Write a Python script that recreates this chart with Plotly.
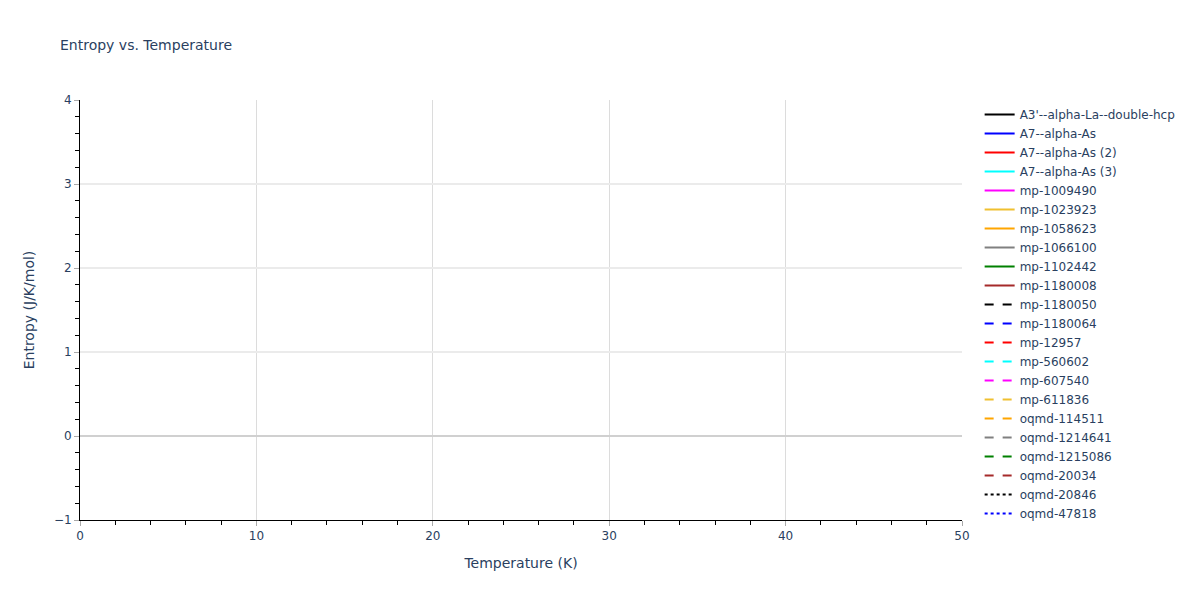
import plotly.graph_objects as go

# Series names shown in the legend (no data visible in the plotted range)
names = [
    "A3'--alpha-La--double-hcp", "A7--alpha-As", "A7--alpha-As (2)", "A7--alpha-As (3)",
    "mp-1009490", "mp-1023923", "mp-1058623", "mp-1066100", "mp-1102442", "mp-1180008",
    "mp-1180050", "mp-1180064", "mp-12957", "mp-560602", "mp-607540", "mp-611836",
    "oqmd-114511", "oqmd-1214641", "oqmd-1215086", "oqmd-20034", "oqmd-20846", "oqmd-47818",
]
colors = ["black", "blue", "red", "cyan", "magenta", "#f0c030", "orange", "grey", "green", "brown"]
dashes = ["solid", "dash", "dot"]

# Temperature / entropy values: nothing is drawn inside the visible window
temperature = [None]
entropy = [None]

fig = go.Figure()
for i, n in enumerate(names):
    fig.add_trace(go.Scatter(
        x=temperature, y=entropy, mode="lines", name=n, showlegend=True,
        line=dict(color=colors[i % 10], dash=dashes[i // 10], width=2),
    ))

fig.update_layout(
    template="plotly_white",
    width=1200, height=600,
    font=dict(family="Verdana, DejaVu Sans, sans-serif"),
    title=dict(text="Entropy vs. Temperature", x=0.05, font=dict(size=14)),
    margin=dict(l=80, r=238, t=100, b=80, autoexpand=False),
    showlegend=True,
    legend=dict(maxheight=600),
)
fig.update_xaxes(
    title_text="Temperature (K)", range=[0, 50],
    showline=True, linecolor="black", linewidth=1,
    ticks="outside", tickcolor="#aaaaaa", ticklen=5,
    showgrid=True, gridcolor="#dcdcdc", gridwidth=1, zeroline=False,
    minor=dict(ticks="outside", dtick=2, ticklen=4, tickcolor="black", showgrid=False),
)
fig.update_yaxes(
    title_text="Entropy (J/K/mol)", range=[-1, 4],
    showline=True, linecolor="black", linewidth=1,
    ticks="outside", tickcolor="#aaaaaa", ticklen=5,
    showgrid=True, gridcolor="#ebebeb", gridwidth=2,
    zeroline=True, zerolinecolor="#d0d0d0", zerolinewidth=2,
    minor=dict(ticks="outside", dtick=0.2, ticklen=4, tickcolor="black", showgrid=False),
)
fig.write_html("out.html", config={"displayModeBar": False},
               post_script="document.body.style.margin='0';document.body.style.overflow='hidden';")
